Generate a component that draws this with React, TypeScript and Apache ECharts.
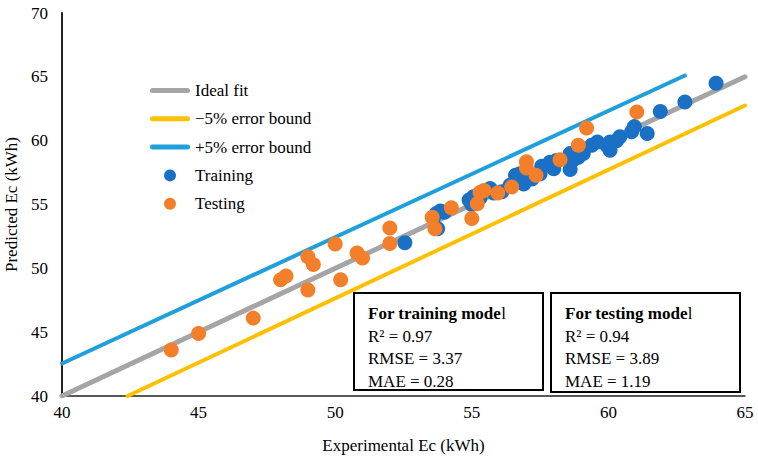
import { useEffect, useRef } from "react";
import * as echarts from "echarts";

const FONT = "Liberation Serif";
const FS = 17;

const seriesNames = ["Ideal fit", "\u22125% error bound", "+5% error bound", "Training", "Testing"];

const idealFit: [number, number][] = [[40, 40], [65, 65]];
const lowerBound: [number, number][] = [[42.4, 40], [65, 62.75]];
const upperBound: [number, number][] = [[40, 42.55], [62.8, 65.1]];

const trainingData: [number, number][] = [
  [52.55, 52.0], [53.6, 54.0], [53.7, 54.3], [53.85, 54.5], [53.75, 53.1], [54.0, 54.4],
  [54.9, 55.35], [55.0, 55.0], [55.06, 55.6], [55.3, 55.5], [55.67, 56.25], [55.8, 55.9],
  [56.1, 56.0], [56.4, 56.5], [56.6, 57.3], [56.76, 57.4], [56.9, 56.6], [57.2, 57.0],
  [57.5, 57.4], [57.56, 58.0], [57.86, 58.3], [58.0, 57.8], [58.1, 58.45], [58.6, 59.0],
  [58.6, 57.75], [58.72, 58.5], [58.9, 58.7], [59.08, 59.0], [59.39, 59.65], [59.6, 59.9],
  [59.94, 59.65], [60.06, 59.9], [60.06, 59.25], [60.3, 60.0], [60.42, 60.3], [60.85, 60.7],
  [60.95, 61.1], [61.42, 60.56], [61.9, 62.28], [62.8, 63.02], [63.94, 64.5]
];

const testingData: [number, number][] = [
  [44.0, 43.6], [45.0, 44.9], [47.0, 46.1], [48.0, 49.1], [48.2, 49.4], [49.0, 50.9],
  [49.2, 50.3], [49.0, 48.3], [50.0, 51.9], [50.2, 49.1], [50.8, 51.2], [51.0, 50.8],
  [52.0, 53.15], [52.0, 51.95], [53.55, 54.0], [53.65, 53.1], [54.25, 54.75], [55.0, 53.9],
  [55.2, 55.05], [55.3, 55.95], [55.45, 56.1], [55.95, 55.9], [56.46, 56.38], [57.0, 58.35],
  [57.0, 57.85], [57.35, 57.3], [58.23, 58.5], [58.9, 59.65], [59.2, 61.0], [61.04, 62.25]
];

const trainingTitle = "For training mode";
const testingTitle = "For testing mode";
const trainingStats = ["R\u00b2 = 0.97", "RMSE = 3.37", "MAE = 0.28"];
const testingStats = ["R\u00b2 = 0.94", "RMSE = 3.89", "MAE = 1.19"];

const LINE_ICON = "path://M2.5,0 H37.5 A2.5,2.5 0 0 1 37.5,5 H2.5 A2.5,2.5 0 0 1 2.5,0 Z";

function statBox(x: number, y: number, w: number, h: number, title: string, stats: string[]) {
  const children: any[] = [
    {
      type: "rect",
      shape: { x, y, width: w, height: h },
      style: { fill: "#fff", stroke: "#000", lineWidth: 2 },
    },
    {
      type: "text",
      x: x + 14,
      y: y + 20,
      style: {
        text: `{b|${title}}{n|l}`,
        verticalAlign: "middle",
        rich: {
          b: { fontFamily: FONT, fontSize: FS, fontWeight: "bold", fill: "#000" },
          n: { fontFamily: FONT, fontSize: FS, fill: "#000" },
        },
      },
    },
  ];
  stats.forEach((s, i) => {
    children.push({
      type: "text",
      x: x + 14,
      y: y + 43 + i * 22.5,
      style: { text: s, fontFamily: FONT, fontSize: FS, fill: "#000", verticalAlign: "middle" },
    });
  });
  return { type: "group", children };
}

export default function App() {
  const ref = useRef<HTMLDivElement>(null);
  useEffect(() => {
    if (!ref.current) return;
    const chart = echarts.init(ref.current, null, { renderer: "svg" });
    const axisLabel = { fontFamily: FONT, fontSize: FS, color: "#000" };
    const lineColors = ["#A5A5A5", "#FFC000", "#1FA0DA"];
    chart.setOption({
      animation: false,
      backgroundColor: "#fff",
      textStyle: { fontFamily: FONT },
      grid: { left: 62, right: 13, top: 13, bottom: 65, containLabel: false, outerBoundsMode: "none" },
      xAxis: {
        type: "value",
        min: 40,
        max: 65,
        interval: 5,
        name: "Experimental Ec (kWh)",
        nameLocation: "middle",
        nameGap: 41,
        nameTextStyle: { fontFamily: FONT, fontSize: FS, color: "#000" },
        axisLine: { lineStyle: { color: "#222", width: 1.5 } },
        axisTick: { show: false },
        splitLine: { show: false },
        axisLabel: { ...axisLabel, margin: 8 },
      },
      yAxis: {
        type: "value",
        min: 40,
        max: 70,
        interval: 5,
        name: "Predicted Ec (kWh)",
        nameLocation: "middle",
        nameGap: 41,
        nameTextStyle: { fontFamily: FONT, fontSize: FS, color: "#000" },
        axisLine: { show: true, lineStyle: { color: "#222", width: 2 } },
        axisTick: { show: false },
        splitLine: { show: false },
        axisLabel: { ...axisLabel, margin: 14 },
      },
      legend: {
        orient: "vertical",
        left: 145,
        top: 77,
        itemWidth: 40,
        itemHeight: 12,
        itemGap: 11.3,
        data: seriesNames.map((n, i) =>
          i < 3
            ? { name: n, icon: LINE_ICON, itemStyle: { color: lineColors[i] } }
            : { name: n, icon: "circle" }
        ),
        textStyle: { fontFamily: FONT, fontSize: FS, color: "#000", lineHeight: 17 },
      },
      series: [
        {
          name: seriesNames[0],
          type: "line",
          data: idealFit,
          symbol: "none",
          lineStyle: { color: lineColors[0], width: 5, cap: "round" },
          itemStyle: { color: lineColors[0] },
          z: 1,
        },
        {
          name: seriesNames[1],
          type: "line",
          data: lowerBound,
          symbol: "none",
          lineStyle: { color: lineColors[1], width: 4, cap: "round" },
          itemStyle: { color: lineColors[1] },
          z: 1,
        },
        {
          name: seriesNames[2],
          type: "line",
          data: upperBound,
          symbol: "none",
          lineStyle: { color: lineColors[2], width: 4, cap: "round" },
          itemStyle: { color: lineColors[2] },
          z: 1,
        },
        {
          name: seriesNames[3],
          type: "scatter",
          data: trainingData,
          symbolSize: 15,
          itemStyle: { color: "#1A70C5", opacity: 1 },
          z: 2,
        },
        {
          name: seriesNames[4],
          type: "scatter",
          data: testingData,
          symbolSize: 15,
          itemStyle: { color: "#F47F2A", opacity: 1 },
          z: 3,
        },
      ],
      graphic: [
        statBox(354, 293, 189, 97, trainingTitle, trainingStats),
        statBox(551, 293, 189, 99, testingTitle, testingStats),
      ],
    });
    return () => chart.dispose();
  }, []);
  return <div ref={ref} style={{ width: 758, height: 461, position: "absolute", left: 0, top: 0 }} />;
}
